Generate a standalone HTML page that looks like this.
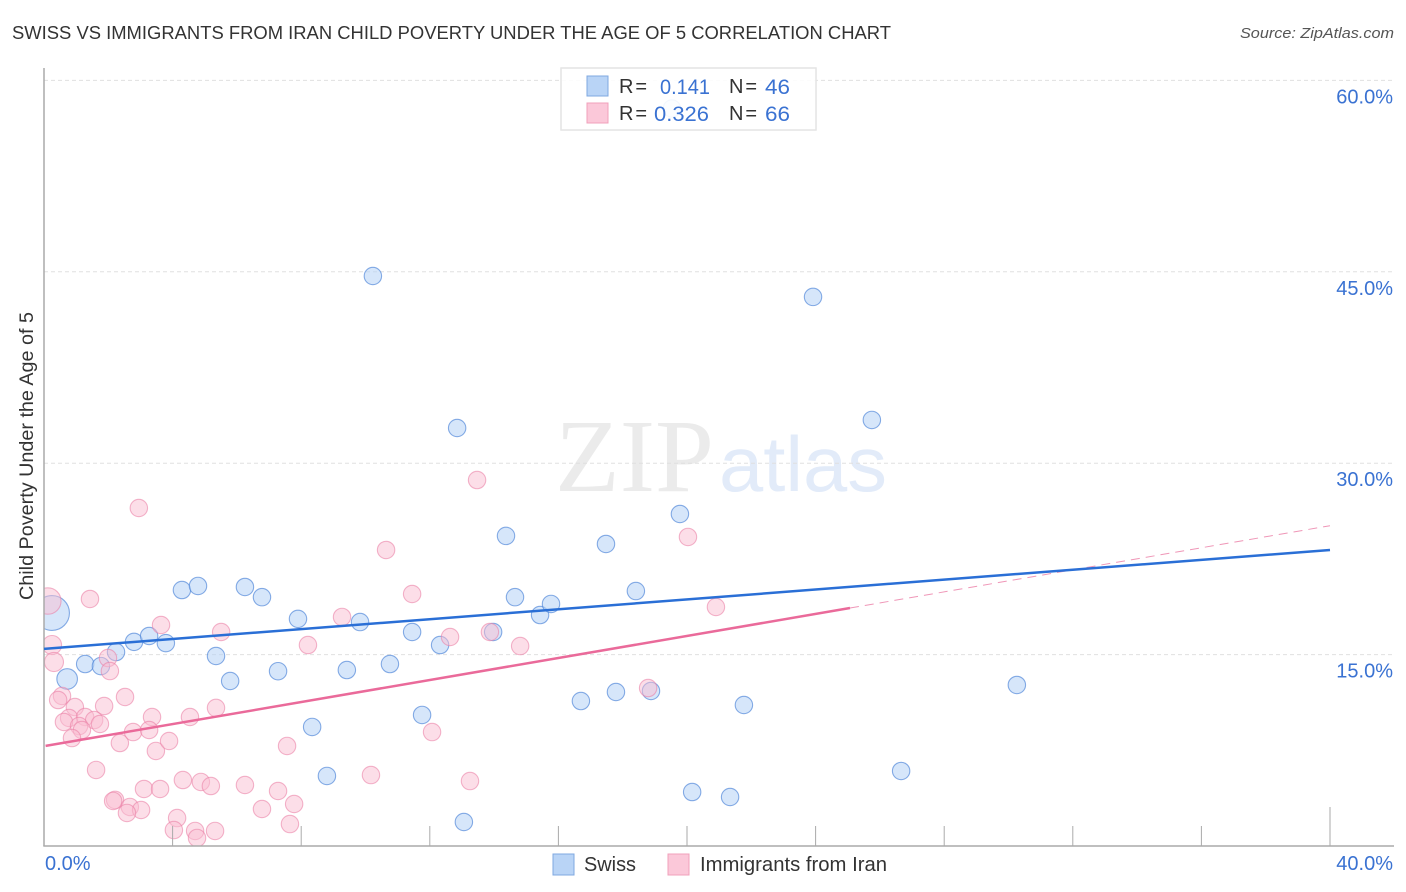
<!DOCTYPE html>
<html lang="en">
<head>
<meta charset="utf-8">
<title>Swiss vs Immigrants from Iran Child Poverty Correlation Chart</title>
<style>
html,body{margin:0;padding:0;background:#fff;width:1406px;height:892px;overflow:hidden}
svg{display:block;font-family:"Liberation Sans",sans-serif}
</style>
</head>
<body>
<svg id="chart" width="1406" height="892" viewBox="0 0 1406 892">
<defs><clipPath id="plot-clip"><rect x="44" y="60" width="1350" height="786"/></clipPath></defs>
<text x="555" y="491" font-family="'Liberation Serif',serif" font-size="104" fill="#ebebeb" textLength="159" lengthAdjust="spacingAndGlyphs">ZIP</text>
<text x="719" y="491" font-size="78" fill="#e2ebf9" textLength="168" lengthAdjust="spacingAndGlyphs">atlas</text>
<g id="grid"></g>
<g id="points" clip-path="url(#plot-clip)"></g>
<rect x="0" y="60" width="44" height="800" fill="#fff"/>
<rect x="0" y="846" width="1406" height="14" fill="#fff"/>
<g id="axes"></g>
<g id="trends"></g>
<g id="ylabels"></g>
<g id="xlabels"></g>

<text x="12" y="39" font-size="18" fill="#333" textLength="879" lengthAdjust="spacingAndGlyphs">SWISS VS IMMIGRANTS FROM IRAN CHILD POVERTY UNDER THE AGE OF 5 CORRELATION CHART</text>
<text x="1394" y="38" font-size="15" font-style="italic" fill="#555" text-anchor="end" textLength="154" lengthAdjust="spacingAndGlyphs">Source: ZipAtlas.com</text>
<text transform="translate(33,456) rotate(-90)" font-size="19" fill="#333" text-anchor="middle" textLength="288" lengthAdjust="spacingAndGlyphs">Child Poverty Under the Age of 5</text>

<g>
<rect x="561" y="68" width="255" height="62" fill="#fff" fill-opacity="0.9" stroke="#e4e4e4" stroke-width="1.5"/>
<rect x="587" y="76" width="21" height="20" fill="#b9d4f6" stroke="#7fa8e0"/>
<rect x="587" y="103" width="21" height="20" fill="#fbc8d9" stroke="#f0a0bb"/>
<g font-size="20" fill="#333">
<text x="619" y="93" textLength="28" lengthAdjust="spacing">R =</text>
<text x="619" y="120" textLength="28" lengthAdjust="spacing">R =</text>
<text x="729" y="93" textLength="28" lengthAdjust="spacing">N =</text>
<text x="729" y="120" textLength="28" lengthAdjust="spacing">N =</text>
</g>
<g font-size="21" fill="#3a72d2">
<text x="660" y="94" textLength="50" lengthAdjust="spacingAndGlyphs">0.141</text>
<text x="654" y="121" textLength="55" lengthAdjust="spacingAndGlyphs">0.326</text>
<text x="765" y="94" textLength="25" lengthAdjust="spacingAndGlyphs">46</text>
<text x="765" y="121" textLength="25" lengthAdjust="spacingAndGlyphs">66</text>
</g>
</g>

<g>
<rect x="553" y="854" width="21" height="21" fill="#b9d4f6" stroke="#7fa8e0"/>
<text x="584" y="871" font-size="20" fill="#333" textLength="52" lengthAdjust="spacingAndGlyphs">Swiss</text>
<rect x="668" y="854" width="21" height="21" fill="#fbc8d9" stroke="#f0a0bb"/>
<text x="700" y="871" font-size="20" fill="#333" textLength="187" lengthAdjust="spacingAndGlyphs">Immigrants from Iran</text>
</g>
</svg>
<script>
var yTickValues = [15, 30, 45, 60];
var yTickLabels = ["15.0%", "30.0%", "45.0%", "60.0%"];
var xTickValues = [4, 8, 12, 16, 20, 24, 28, 32, 36, 40];
var xEdgeValues = [0, 40];
var xEdgeLabels = ["0.0%", "40.0%"];

var swissX = [0.25,0.72,1.28,1.77,2.24,2.8,3.27,3.79,4.29,4.79,5.35,5.79,6.25,6.78,7.28,7.9,8.34,8.8,9.42,9.83,10.23,10.76,11.45,11.76,12.32,12.85,13.06,13.97,14.37,14.65,15.43,15.77,16.7,17.48,17.79,18.41,18.88,19.53,19.78,20.16,21.34,21.77,23.92,25.75,26.66,30.26];
var swissY = [18.26,13.09,14.26,14.1,15.2,16.0,16.46,15.9,20.06,20.38,14.89,12.93,20.3,19.5,13.7,17.8,9.33,5.49,13.79,17.55,44.67,14.26,16.77,10.27,15.75,32.76,1.88,16.77,24.3,19.5,18.1,18.97,11.36,23.67,12.07,19.98,12.15,57.8,26.02,4.23,3.84,11.05,43.03,33.39,5.88,12.62];
var swissWeight = [4,1.4,1,1,1,1,1,1,1,1,1,1,1,1,1,1,1,1,1,1,1,1,1,1,1,1,1,1,1,1,1,1,1,1,1,1,1,1,1,1,1,1,1,1,1,1];

var iranX = [0.12,1.43,3.64,5.51,0.25,0.31,1.99,2.05,2.52,0.56,0.44,0.96,1.87,0.78,0.62,1.28,1.56,1.74,1.09,1.18,0.87,2.36,2.77,3.36,3.27,4.54,5.35,3.48,3.89,1.62,7.56,2.21,2.15,2.67,3.02,2.58,3.11,3.61,4.32,4.88,5.19,6.25,6.78,7.28,7.78,7.65,4.14,4.04,4.7,4.76,5.32,10.17,13.25,2.95,13.47,20.03,10.64,11.45,9.27,8.21,12.63,13.87,14.81,20.9,18.79,12.07];
var iranY = [19.2,19.36,17.32,16.77,15.75,14.42,14.73,13.71,11.68,11.76,11.44,10.89,10.97,10.03,9.72,10.11,9.87,9.56,9.4,9.09,8.46,8.07,8.93,10.11,9.09,10.11,10.82,7.45,8.23,5.96,7.84,3.61,3.53,3.06,2.82,2.59,4.47,4.47,5.17,5.02,4.7,4.78,2.9,4.31,3.29,1.72,2.19,1.25,1.18,0.63,1.18,5.56,5.09,26.49,28.68,24.22,23.2,19.75,17.95,15.75,16.38,16.77,15.67,18.73,12.38,8.93];
var iranWeight = [2.3,1,1,1,1.2,1.2,1,1,1,1,1,1,1,1,1,1,1,1,1,1,1,1,1,1,1,1,1,1,1,1,1,1,1,1,1,1,1,1,1,1,1,1,1,1,1,1,1,1,1,1,1,1,1,1,1,1,1,1,1,1,1,1,1,1,1,1];

var swissTrendX = [0, 40];
var swissTrendY = [15.45, 23.2];
var iranTrendX = [0.05, 25.07];
var iranTrendY = [7.85, 18.65];
var iranDashX = [25.07, 40];
var iranDashY = [18.65, 25.1];

var NS = "http://www.w3.org/2000/svg";
function xScale(v) { return 44 + v * 32.15; }
function yScale(v) { return 846 - v * 12.76; }
function rScale(w) { return 8.7 * Math.sqrt(w); }
function make(tag, attrs, parent, text) {
  var el = document.createElementNS(NS, tag);
  for (var k in attrs) el.setAttribute(k, attrs[k]);
  if (text !== undefined) el.textContent = text;
  parent.appendChild(el);
  return el;
}
var grid = document.getElementById("grid");
var axes = document.getElementById("axes");
var pts = document.getElementById("points");
var trends = document.getElementById("trends");
var ylabels = document.getElementById("ylabels");
var xlabels = document.getElementById("xlabels");

yTickValues.forEach(function (v, i) {
  var line = make("line", {x1: 44, x2: 1394, y1: yScale(v), y2: yScale(v), stroke: "#e0e0e0", "stroke-width": 1, "stroke-dasharray": "4 3"}, grid);
  
  
  var label = make("text", {x: 1393, y: yScale(v) + 23, "font-size": 20, fill: "#3a72d2", "text-anchor": "end"}, ylabels, yTickLabels[i]);
  
  
});

var yAxis = make("line", {x1: 44, x2: 44, y1: 68, y2: 846, stroke: "#aaa", "stroke-width": 1.5}, axes);


var xAxis = make("line", {x1: 43.3, x2: 1394, y1: 846, y2: 846, stroke: "#aaa", "stroke-width": 1.5}, axes);


xTickValues.forEach(function (v, i) {
  var top = i === xTickValues.length - 1 ? 807 : 826;
  var tick = make("line", {x1: xScale(v), x2: xScale(v), y1: top, y2: 846, stroke: "#aaa", "stroke-width": 1}, axes);
  
  
});
xEdgeValues.forEach(function (v, i) {
  var attrs = i === 0
    ? {x: xScale(v) + 1, y: 870, "font-size": 20, fill: "#3a72d2"}
    : {x: 1393, y: 870, "font-size": 20, fill: "#3a72d2", "text-anchor": "end"};
  var label = make("text", attrs, xlabels, xEdgeLabels[i]);
  
  
});

swissX.forEach(function (v, i) {
  var c = make("circle", {cx: xScale(v), cy: yScale(swissY[i]), r: rScale(swissWeight[i]), fill: "#b9d4f6", "fill-opacity": 0.58, stroke: "#4f86d8", "stroke-opacity": 0.68, "stroke-width": 1.1}, pts);
  
  
});
iranX.forEach(function (v, i) {
  var c = make("circle", {cx: xScale(v), cy: yScale(iranY[i]), r: rScale(iranWeight[i]), fill: "#f9bdd2", "fill-opacity": 0.5, stroke: "#ea7fa5", "stroke-opacity": 0.58, "stroke-width": 1.1}, pts);
  
  
});

var dash = make("line", {x1: xScale(iranDashX[0]), x2: xScale(iranDashX[1]), y1: yScale(iranDashY[0]), y2: yScale(iranDashY[1]), stroke: "#e86a98", "stroke-width": 1, "stroke-dasharray": "9 6", "stroke-opacity": 0.7}, trends);


var blueLine = make("line", {x1: xScale(swissTrendX[0]), x2: xScale(swissTrendX[1]), y1: yScale(swissTrendY[0]), y2: yScale(swissTrendY[1]), stroke: "#2a6fd6", "stroke-width": 2.5}, trends);


var pinkLine = make("line", {x1: xScale(iranTrendX[0]), x2: xScale(iranTrendX[1]), y1: yScale(iranTrendY[0]), y2: yScale(iranTrendY[1]), stroke: "#ea6a9a", "stroke-width": 2.5}, trends);


</script>
</body>
</html>
